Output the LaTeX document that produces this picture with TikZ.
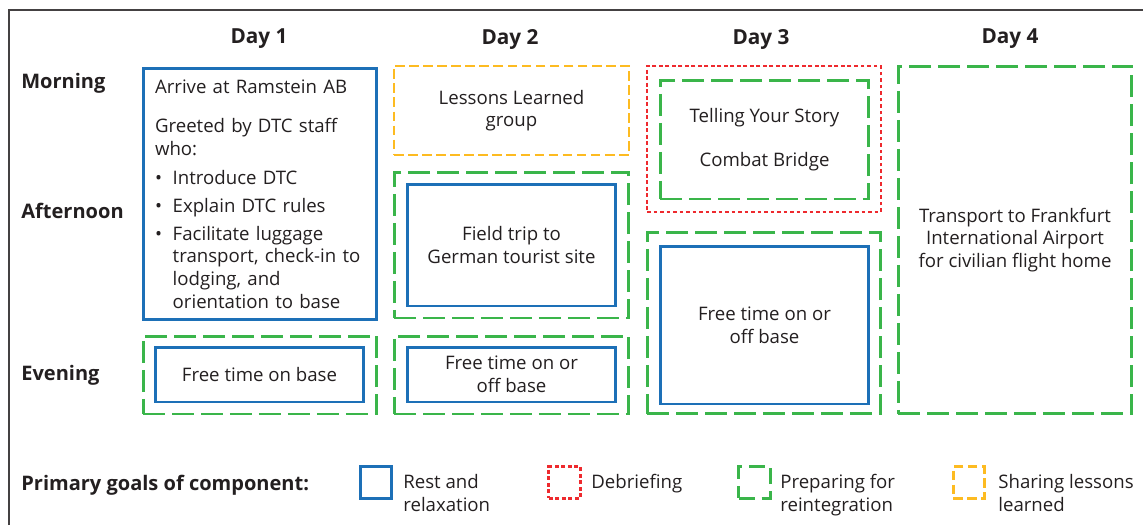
\documentclass[tikz,border=0pt]{standalone}
\usepackage{fontspec}
\setmainfont{Open Sans}
\usetikzlibrary{positioning}

\definecolor{restblue}{HTML}{1D70B7}
\definecolor{debriefred}{HTML}{EE2A2E}
\definecolor{prepgreen}{HTML}{3AB54A}
\definecolor{lessonyellow}{HTML}{FDBB21}
\definecolor{ink}{HTML}{231F20}

\tikzset{
  restbox/.style={draw=restblue, line width=1.7pt},
  prepbox/.style={draw=prepgreen, line width=1.7pt, dash pattern=on 12.5pt off 4pt},
  debriefbox/.style={draw=debriefred, line width=1.6pt, dash pattern=on 2.2pt off 1.5pt},
  lessonbox/.style={draw=lessonyellow, line width=1.6pt, dash pattern=on 5.5pt off 2.5pt},
  boxtext/.style={align=center, text=ink, font=\fontsize{10.6}{12.9}\selectfont, inner sep=0pt},
  dayhead/.style={text=ink, font=\fontsize{11.8}{14}\selectfont\bfseries},
  rowhead/.style={anchor=west, text=ink, font=\fontsize{11.4}{14}\selectfont\bfseries, inner sep=0pt},
  legtext/.style={anchor=north west, align=left, text=ink, font=\fontsize{10.6}{12.9}\selectfont, inner sep=0pt}
}
\newcommand{\bul}{\makebox[0.95em][l]{\textbullet}}
\newcommand{\bulgap}{\hspace*{0.95em}}

\begin{document}
\begin{tikzpicture}[x=0.02cm, y=-0.02cm]
\useasboundingbox (0,0) rectangle (1143,525);
\draw[ink!85, line width=0.9pt] (9,525) -- (9,10) -- (1143,10);

% column and row headings
\node[dayhead] (day1) at (259,39) {Day 1};
\node[dayhead] (day2) at (510,39) {Day 2};
\node[dayhead] (day3) at (761,39) {Day 3};
\node[dayhead] (day4) at (1010,39) {Day 4};

\node[rowhead] (morning) at (21,83) {Morning};
\node[rowhead] (afternoon) at (21,211) {Afternoon};
\node[rowhead] (evening) at (21,375) {Evening};

% day 1
\node[restbox, boxtext, align=left, minimum width=4.68cm, minimum height=5.02cm, text width=4.2cm]
  (arrive) at (260,194) {Arrive at Ramstein AB\\[9.5pt]
  Greeted by DTC staff\\ who:\\[3.5pt]
  \bul Introduce DTC\\[3pt]
  \bul Explain DTC rules\\[3pt]
  \bul Facilitate luggage\\ \bulgap transport, check-in to\\ \bulgap lodging, and\\ \bulgap orientation to base};
\node[prepbox, minimum width=4.68cm, minimum height=1.56cm] (d1eve) at (260,375) {};
\node[restbox, boxtext, minimum width=4.18cm, minimum height=1.10cm] (freebase) at (259.5,374.5) {Free time on base};

% day 2
\node[lessonbox, boxtext, minimum width=4.70cm, minimum height=1.78cm] (lessons) at (511.5,110.5) {Lessons Learned\\ group};
\node[prepbox, minimum width=4.70cm, minimum height=2.92cm] (d2pm) at (511.5,245) {};
\node[restbox, boxtext, minimum width=4.18cm, minimum height=2.44cm] (fieldtrip) at (511.5,245) {Field trip to\\ German tourist site};
\node[prepbox, minimum width=4.70cm, minimum height=1.56cm] (d2eve) at (511.5,375) {};
\node[restbox, boxtext, minimum width=4.18cm, minimum height=1.10cm] (freeoff) at (511.5,374.5) {Free time on or\\ off base};

% day 3
\node[debriefbox, minimum width=4.68cm, minimum height=2.92cm] (d3am) at (764,139) {};
\node[prepbox, boxtext, minimum width=4.18cm, minimum height=2.38cm] (story) at (764.5,139.5) {Telling Your Story\\[12.5pt] Combat Bridge};
\node[prepbox, minimum width=4.68cm, minimum height=3.64cm] (d3pm) at (764,323) {};
\node[restbox, boxtext, minimum width=4.18cm, minimum height=3.16cm] (freeoffb) at (764.5,325) {Free time on or\\ off base};

% day 4
\node[prepbox, boxtext, minimum width=4.68cm, minimum height=6.96cm] (transport) at (1015,240) {Transport to Frankfurt\\ International Airport\\ for civilian flight home};

% legend
\node[rowhead] (goals) at (21,485) {Primary goals of component:};
\node[restbox, minimum size=0.63cm, inner sep=0pt] (legrest) at (376,482.5) {};
\node[legtext] (legresttext) at (403,474) {Rest and\\ relaxation};
\node[debriefbox, minimum size=0.63cm, inner sep=0pt] (legdebrief) at (564.5,482.5) {};
\node[legtext] (legdebrieftext) at (591,474) {Debriefing};
\node[prepbox, dash pattern=on 9pt off 4pt, minimum size=0.63cm, inner sep=0pt] (legprep) at (754.5,482.5) {};
\node[legtext] (legpreptext) at (780,474) {Preparing for\\ reintegration};
\node[lessonbox, minimum size=0.63cm, inner sep=0pt] (leglesson) at (969,482.5) {};
\node[legtext] (leglessontext) at (998,474) {Sharing lessons\\ learned};
\end{tikzpicture}
\end{document}
